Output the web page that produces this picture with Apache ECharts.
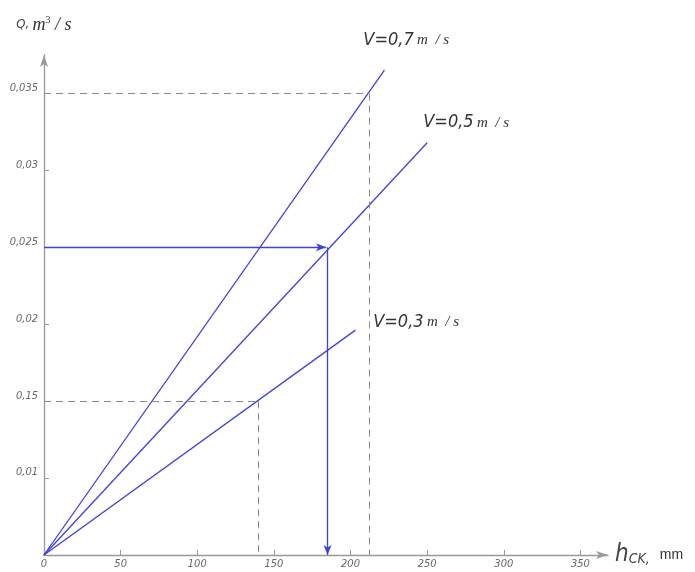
<!DOCTYPE html>
<html>
<head>
<meta charset="utf-8">
<script src="https://cdn.jsdelivr.net/npm/echarts@6/dist/echarts.min.js"></script>
<style>
html,body{margin:0;padding:0;background:#fff;}
#chart{width:695px;height:572px;}
</style>
</head>
<body>
<div id="chart"></div>
<script>
// ---- data ----
const xTicks = [0, 50, 100, 150, 200, 250, 300, 350];
const yTicks = [0.01, 0.015, 0.02, 0.025, 0.03, 0.035];
const yTickLabels = ['0,01', '0,15', '0,02', '0,025', '0,03', '0,035'];
const seriesNames = ['V=0,7', 'V=0,5', 'V=0,3'];
const lineV07 = [[0, 0.005], [222, 0.0365]];
const lineV05 = [[0, 0.005], [250, 0.0318]];
const lineV03 = [[0, 0.005], [203, 0.0196]];
// helper constructions (solution lines)
const guide035 = { h: 212, q: 0.035 };
const guide015 = { h: 140, q: 0.015 };
const solution025 = { h: 185, q: 0.025 };
const qBase = 0.005;

const blue = '#4040dd';
const grey = '#8a8a8a';
const tickFont = { fontFamily: 'DejaVu Sans Condensed', fontStyle: 'italic', fontSize: 11, color: '#666' };

function lineLabel(name, offset) {
  return {
    show: true,
    position: 'inside',
    offset: offset,
    formatter: '{v|' + name + '} {u|m  / s}',
    rich: {
      v: { fontFamily: 'DejaVu Sans Condensed', fontStyle: 'italic', fontSize: 18, color: '#333' },
      u: { fontFamily: 'Liberation Serif', fontStyle: 'italic', fontSize: 15, color: '#333' }
    }
  };
}
function withEndLabel(data, name, offset) {
  return data.map((d, i) => i === data.length - 1 ? { value: d, label: lineLabel(name, offset) } : { value: d, label: { show: false } });
}

const chart = echarts.init(document.getElementById('chart'), null, { renderer: 'canvas' });
chart.setOption({
  animation: false,
  backgroundColor: '#fff',
  grid: { left: 44, right: 87, top: 55, bottom: 17, containLabel: false },
  xAxis: {
    type: 'value', min: 0, max: 368,
    name: '{h|h}{s|CK,}   {m|mm}',
    nameLocation: 'end', nameGap: 7,
    nameTextStyle: {
      align: 'left', verticalAlign: 'middle',
      rich: {
        h: { fontFamily: 'DejaVu Sans Condensed', fontStyle: 'italic', fontSize: 24, color: '#444' },
        s: { fontFamily: 'DejaVu Sans Condensed', fontStyle: 'italic', fontSize: 14, color: '#444', padding: [8, 0, 0, 0] },
        m: { fontFamily: 'Liberation Sans', fontSize: 14, color: '#333' }
      }
    },
    axisLine: { onZero: false, symbol: ['none', 'arrow'], symbolSize: [6, 12], lineStyle: { color: '#999', width: 1.3 } },
    axisTick: { show: true, inside: true, length: 5, customValues: xTicks.slice(1), lineStyle: { color: '#999' } },
    axisLabel: Object.assign({ customValues: xTicks, margin: 4, formatter: v => String(v) }, tickFont),
    splitLine: { show: false }
  },
  yAxis: {
    type: 'value', min: qBase, max: 0.0375,
    name: '{q|Q,} {m|m}{p|3}{m| / s}',
    nameLocation: 'end', nameGap: 20,
    nameTextStyle: {
      align: 'center', verticalAlign: 'bottom',
      rich: {
        q: { fontFamily: 'DejaVu Sans Condensed', fontStyle: 'italic', fontSize: 13, color: '#444' },
        m: { fontFamily: 'Liberation Serif', fontStyle: 'italic', fontSize: 18, color: '#333' },
        p: { fontFamily: 'Liberation Serif', fontSize: 10, color: '#333', padding: [0, 0, 10, 0] }
      }
    },
    axisLine: { onZero: false, symbol: ['none', 'arrow'], symbolSize: [6, 12], lineStyle: { color: '#999', width: 1.3 } },
    axisTick: { show: true, inside: true, length: 5, customValues: yTicks, lineStyle: { color: '#999' } },
    axisLabel: Object.assign({
      customValues: yTicks, margin: 6, verticalAlign: 'bottom',
      formatter: v => { const i = yTicks.findIndex(t => Math.abs(t - v) < 1e-9); return i >= 0 ? yTickLabels[i] : ''; }
    }, tickFont),
    splitLine: { show: false }
  },
  series: [
    {
      name: seriesNames[0], type: 'line', data: withEndLabel(lineV07, seriesNames[0], [22, -30]),
      showSymbol: true, symbolSize: 0.1, lineStyle: { color: blue, width: 1.3 }, itemStyle: { color: blue },
      markLine: {
        silent: true, symbol: ['none', 'none'], label: { show: false },
        lineStyle: { color: grey, type: [7, 5], width: 1 },
        data: [
          [{ coord: [0, guide035.q] }, { coord: [guide035.h, guide035.q] }],
          [{ coord: [guide035.h, guide035.q] }, { coord: [guide035.h, qBase] }]
        ]
      }
    },
    {
      name: seriesNames[1], type: 'line', data: withEndLabel(lineV05, seriesNames[1], [39, -20]),
      showSymbol: true, symbolSize: 0.1, lineStyle: { color: blue, width: 1.3 }, itemStyle: { color: blue },
      markLine: {
        silent: true, symbol: ['none', 'arrow'], symbolSize: [6, 10], label: { show: false },
        lineStyle: { color: blue, type: 'solid', width: 1.3 },
        data: [
          [{ coord: [0, solution025.q] }, { coord: [solution025.h - 1, solution025.q] }],
          [{ coord: [solution025.h, solution025.q] }, { coord: [solution025.h, qBase] }]
        ]
      }
    },
    {
      name: seriesNames[2], type: 'line', data: withEndLabel(lineV03, seriesNames[2], [61, -8]),
      showSymbol: true, symbolSize: 0.1, lineStyle: { color: blue, width: 1.3 }, itemStyle: { color: blue },
      markLine: {
        silent: true, symbol: ['none', 'none'], label: { show: false },
        lineStyle: { color: grey, type: [7, 5], width: 1 },
        data: [
          [{ coord: [0, guide015.q] }, { coord: [guide015.h, guide015.q] }],
          [{ coord: [guide015.h, guide015.q] }, { coord: [guide015.h, qBase] }]
        ]
      }
    }
  ]
});
</script>
</body>
</html>
